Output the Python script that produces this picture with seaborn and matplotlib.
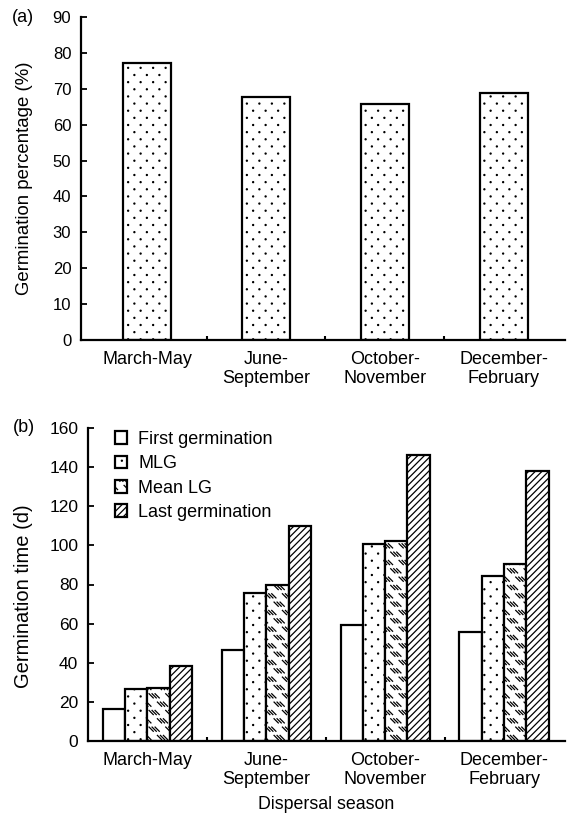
import numpy as np
import pandas as pd
import matplotlib
matplotlib.use("Agg")
import matplotlib.pyplot as plt
import matplotlib.hatch as mhatch
from matplotlib.path import Path
from matplotlib.patches import Patch
import seaborn as sns

# ---------------- data ----------------
seasons = ["March-May", "June-\nSeptember", "October-\nNovember", "December-\nFebruary"]
germ_pct = [77.3, 67.8, 65.7, 68.8]

series = ["First germination", "MLG", "Mean LG", "Last germination"]
first_germ = [16.5, 46.5, 59.5, 55.8]
mlg = [26.5, 75.8, 100.5, 84.3]
mean_lg = [27.3, 79.5, 102.0, 90.4]
last_germ = [38.2, 110.0, 146.0, 138.0]
yticks_a = [0, 10, 20, 30, 40, 50, 60, 70, 80, 90]
yticks_b = [0, 20, 40, 60, 80, 100, 120, 140, 160]

# ---------------- custom hatches ----------------
class StaggerDots(mhatch.HatchPatternBase):
    """replaces '.' : staggered small dots"""
    def __init__(self, hatch, density):
        k = hatch.count('.')
        self.shapes = []
        if k:
            nc, nr = 8 * k, 14 * k
            for j in range(nr):
                y = (j + 0.5) / nr
                off = 0.75 if j % 2 else 0.25
                for i in range(nc):
                    self.shapes.append(((i + off) / nc, y))
        self.poly = 8
        self.num_vertices = len(self.shapes) * (self.poly + 1)

    def set_vertices_and_codes(self, vertices, codes):
        r = 0.0055
        ang = np.linspace(0, 2 * np.pi, self.poly, endpoint=False)
        circ = np.c_[np.cos(ang), np.sin(ang)] * r
        idx = 0
        for (x, y) in self.shapes:
            vertices[idx:idx + self.poly] = circ + (x, y)
            vertices[idx + self.poly] = (x, y)
            codes[idx] = Path.MOVETO
            codes[idx + 1:idx + self.poly] = Path.LINETO
            codes[idx + self.poly] = Path.CLOSEPOLY
            idx += self.poly + 1


class DashClusters(mhatch.HatchPatternBase):
    """replaces 'o' : clusters of short backslash strokes"""
    def __init__(self, hatch, density):
        k = hatch.count('o')
        segs = []
        if k:
            nc, nr = 6 * k, 12 * k
            a, sp = 0.021, 0.03
            for j in range(nr):
                y = (j + 0.5) / nr
                off = 0.75 if j % 2 else 0.25
                for i in range(nc):
                    x0 = (i + off) / nc
                    for s in range(3):
                        x = x0 + (s - 1) * sp
                        for dx in (-1, 0, 1):
                            x1, x2 = x - a + dx, x + a + dx
                            if x2 < 0 or x1 > 1:
                                continue
                            segs.append(((x1, y + a), (x2, y - a)))
        self.segs = segs
        self.num_vertices = 2 * len(segs)

    def set_vertices_and_codes(self, vertices, codes):
        for n, (p1, p2) in enumerate(self.segs):
            vertices[2 * n] = p1
            vertices[2 * n + 1] = p2
            codes[2 * n] = Path.MOVETO
            codes[2 * n + 1] = Path.LINETO


mhatch._hatch_types = [
    StaggerDots if t is mhatch.SmallFilledCircles else
    DashClusters if t is mhatch.SmallCircles else t
    for t in mhatch._hatch_types
]

# ---------------- style ----------------
sns.set_theme(style="ticks")
plt.rcParams["font.family"] = ["Liberation Sans", "DejaVu Sans"]
plt.rcParams["text.color"] = "black"
plt.rcParams["axes.labelcolor"] = "black"
plt.rcParams["hatch.linewidth"] = 0.9
plt.rcParams["hatch.color"] = "black"

fig = plt.figure(figsize=(5.67, 8.18), dpi=100)
ax1 = fig.add_axes([81 / 567, 1 - 340 / 818, 484 / 567, 323 / 818])
ax2 = fig.add_axes([88 / 567, 1 - 741 / 818, 477 / 567, 313 / 818])

# ---------------- panel (a) ----------------
dfa = pd.DataFrame({"season": seasons, "pct": germ_pct})
sns.barplot(data=dfa, x="season", y="pct", order=seasons, color="white",
            edgecolor="black", linewidth=1.6, width=0.40, ax=ax1, saturation=1)
for p in ax1.patches:
    p.set_hatch(".")
    p.set_facecolor("white")

ax1.set_ylim(0, 90)
ax1.set_xlim(-0.555, 3.513)
ax1.set_yticks(yticks_a)

# ---------------- panel (b) ----------------
dfb = pd.DataFrame({
    "season": np.repeat(seasons, 4),
    "series": series * 4,
    "value": np.ravel(np.column_stack([first_germ, mlg, mean_lg, last_germ])),
})
sns.barplot(data=dfb, x="season", y="value", hue="series", order=seasons,
            hue_order=series, palette=["white"] * 4, edgecolor="black",
            linewidth=1.6, width=0.75, gap=0, ax=ax2, saturation=1, legend=False)
hatches = ["", ".", "o", "/////"]
for cont, h in zip(ax2.containers, hatches):
    for p in cont:
        p.set_hatch(h)
        p.set_facecolor("white")

ax2.set_ylim(0, 160)
ax2.set_xlim(-0.5, 3.513)
ax2.set_yticks(yticks_b)

handles = [Patch(facecolor="white", edgecolor="black", hatch=h, linewidth=1.6, label=s)
           for h, s in zip(hatches, series)]
leg = ax2.legend(handles=handles, loc="upper left", bbox_to_anchor=(0.056, 0.99),
                 frameon=False, fontsize=13, handlelength=0.7, handleheight=0.7,
                 handletextpad=0.6, labelspacing=0.4, borderpad=0, borderaxespad=0,
                 labelcolor="black")

# ---------------- common axis styling ----------------
for ax, fs_tick in ((ax1, 12), (ax2, 12.5)):
    sns.despine(ax=ax)
    for s in ("left", "bottom"):
        ax.spines[s].set_linewidth(1.6)
        ax.spines[s].set_color("black")
    ax.set_xticks(range(len(seasons)))
    ax.set_xticklabels(seasons, fontsize=13, linespacing=1.15)
    ax.set_xticks([0.5, 1.5, 2.5], minor=True)
    ax.tick_params(axis="x", which="major", length=0, pad=8, colors="black")
    ax.tick_params(axis="x", which="minor", direction="in", length=3, width=1.5, colors="black")
    ax.tick_params(axis="y", direction="in", length=4, width=1.3, pad=7,
                   labelsize=fs_tick, colors="black")
    ax.set_facecolor("white")

ax1.set_xlabel("")
ax1.set_ylabel("Germination percentage (%)", fontsize=13.4, color="black")
ax1.yaxis.set_label_coords((33 - 81) / 484, 0.5)
ax2.set_xlabel("Dispersal season", fontsize=12.8, color="black", labelpad=6)
ax2.set_ylabel("Germination time (d)", fontsize=14.5, color="black")
ax2.yaxis.set_label_coords((33 - 88) / 477, 0.462)

fig.text(12 / 567, 1 - 17 / 818, "(a)", fontsize=13, va="center", ha="left", color="black")
fig.text(13 / 567, 1 - 428 / 818, "(b)", fontsize=13, va="center", ha="left", color="black")

fig.savefig("out.png", dpi=100, facecolor="white")
